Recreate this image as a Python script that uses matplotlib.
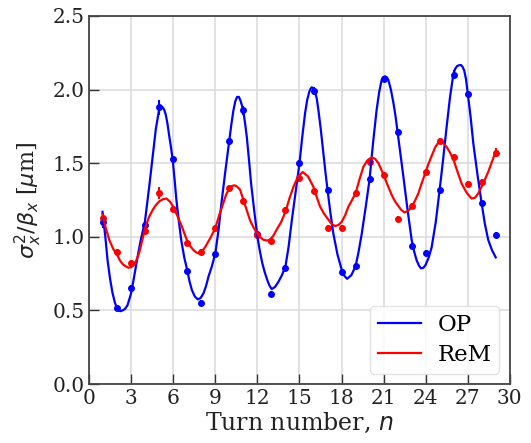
#!/bin/python

# Beam size over turns: measured points and fitted curves, OP vs ReM

import numpy as np
import matplotlib
matplotlib.use("Agg")
import matplotlib.pyplot as plt

turns = list(range(1, 30))

op_meas = [1.10, 0.52, 0.65, 1.08, 1.88, 1.53, 0.77, 0.55, 0.88, 1.65,
           1.86, 1.02, 0.61, 0.79, 1.50, 1.99, 1.32, 0.76, 0.80, 1.39,
           2.07, 1.71, 0.94, 0.89, 1.32, 2.10, 1.97, 1.23, 1.01]
rem_meas = [1.13, 0.90, 0.82, 1.04, 1.30, 1.19, 0.96, 0.90, 1.06, 1.33,
            1.24, 1.01, 0.97, 1.18, 1.40, 1.31, 1.06, 1.06, 1.30, 1.51,
            1.42, 1.12, 1.21, 1.44, 1.65, 1.54, 1.36, 1.37, 1.57]
op_err = [0.04, 0.02, 0.02, 0.02, 0.05, 0.02, 0.02, 0.02, 0.02, 0.02,
          0.03, 0.02, 0.02, 0.02, 0.02, 0.03, 0.02, 0.02, 0.02, 0.02,
          0.02, 0.02, 0.02, 0.02, 0.02, 0.03, 0.02, 0.02, 0.02]
rem_err = [0.03, 0.02, 0.02, 0.02, 0.04, 0.02, 0.02, 0.02, 0.02, 0.02,
           0.02, 0.02, 0.02, 0.02, 0.02, 0.02, 0.02, 0.02, 0.02, 0.02,
           0.02, 0.02, 0.02, 0.02, 0.02, 0.02, 0.02, 0.02, 0.03]

# fitted curves
op_fit_n = [0.95, 1.15, 1.31, 1.48, 1.66, 1.84, 2.02, 2.20, 2.38, 2.55, 2.73, 2.97, 3.15, 3.33, 3.50, 3.68, 3.97,
            4.28, 4.46, 4.63, 4.75, 4.87, 4.96, 5.04, 5.13, 5.23, 5.34, 5.46, 5.58, 5.70, 5.83, 5.96, 6.09, 6.22, 6.39, 6.56,
            6.78, 6.99, 7.15, 7.32, 7.53, 7.75, 7.95, 8.15, 8.33, 8.51, 8.75, 9.00, 9.23, 9.46, 9.73, 10.00, 10.15, 10.29, 10.42, 10.55,
            10.68, 10.81, 10.90, 11.00, 11.12, 11.24, 11.40, 11.55, 11.78, 12.00, 12.18, 12.35, 12.52, 12.69, 12.85, 13.02, 13.26, 13.50, 13.75, 14.00,
            14.22, 14.45, 14.72, 15.00, 15.20, 15.40, 15.55, 15.70, 15.79, 15.87, 15.99, 16.11, 16.23, 16.35, 16.52, 16.70, 16.85, 17.00, 17.21, 17.42,
            17.71, 18.00, 18.20, 18.40, 18.70, 19.00, 19.22, 19.44, 19.72, 20.00, 20.25, 20.50, 20.68, 20.86, 20.98, 21.10, 21.22, 21.34, 21.52, 21.70,
            21.85, 22.00, 22.20, 22.41, 22.70, 23.00, 23.18, 23.36, 23.52, 23.67, 23.84, 24.00, 24.22, 24.43, 24.72, 25.00, 25.25, 25.50, 25.74, 25.97,
            26.10, 26.25, 26.38, 26.52, 26.63, 26.75, 26.88, 27.00, 27.20, 27.40, 27.70, 27.99, 28.22, 28.46, 28.73, 29.00]
op_fit = [1.17, 1.00, 0.84, 0.72, 0.62, 0.55, 0.51, 0.495, 0.50, 0.51, 0.535, 0.61, 0.70, 0.80, 0.89, 0.98, 1.10,
          1.34, 1.49, 1.635, 1.73, 1.80, 1.85, 1.875, 1.885, 1.88, 1.865, 1.83, 1.77, 1.69, 1.61, 1.52, 1.39, 1.25, 1.11, 0.98,
          0.86, 0.775, 0.70, 0.64, 0.595, 0.575, 0.585, 0.616, 0.665, 0.73, 0.80, 0.89, 1.05, 1.25, 1.46, 1.66, 1.77, 1.86, 1.92, 1.95,
          1.95, 1.92, 1.89, 1.85, 1.77, 1.68, 1.52, 1.36, 1.17, 1.00, 0.90, 0.82, 0.76, 0.71, 0.67, 0.645, 0.66, 0.695, 0.74, 0.80,
          0.93, 1.11, 1.30, 1.50, 1.68, 1.84, 1.93, 1.985, 2.005, 2.015, 2.01, 1.985, 1.94, 1.86, 1.73, 1.57, 1.44, 1.32, 1.16, 1.02,
          0.88, 0.78, 0.735, 0.715, 0.74, 0.80, 0.90, 1.02, 1.20, 1.39, 1.64, 1.86, 1.98, 2.065, 2.085, 2.09, 2.085, 2.065, 2.00, 1.91,
          1.82, 1.71, 1.56, 1.41, 1.19, 0.98, 0.90, 0.84, 0.805, 0.786, 0.79, 0.81, 0.86, 0.93, 1.10, 1.32, 1.53, 1.75, 1.95, 2.10,
          2.14, 2.16, 2.165, 2.167, 2.155, 2.13, 2.07, 1.975, 1.82, 1.635, 1.42, 1.23, 1.09, 0.98, 0.91, 0.86]

rem_fit_n = [0.95, 1.18, 1.43, 1.70, 2.00, 2.19, 2.38, 2.59, 2.80, 3.00, 3.21, 3.38, 3.56, 3.78, 3.99, 4.25, 4.51, 4.75, 4.99,
             5.25, 5.51, 5.75, 5.99, 6.30, 6.61, 6.80, 7.00, 7.22, 7.44, 7.62, 7.79, 8.03, 8.27, 8.63, 9.00, 9.28, 9.57,
             9.78, 10.00, 10.18, 10.36, 10.56, 10.76, 11.00, 11.24, 11.48, 11.74, 12.00, 12.22, 12.43, 12.65, 12.86, 13.12, 13.38, 13.69, 14.00,
             14.28, 14.57, 14.90, 15.23, 15.61, 15.99, 16.23, 16.47, 16.73, 17.00, 17.27, 17.53, 17.77, 18.00, 18.25, 18.49, 18.75, 19.00, 19.28, 19.56,
             19.85, 20.15, 20.39, 20.63, 20.82, 21.00, 21.29, 21.58, 21.79, 22.00, 22.24, 22.48, 22.74, 23.00, 23.24, 23.48, 23.74, 24.00, 24.22, 24.43,
             24.69, 24.95, 25.22, 25.50, 25.75, 26.00, 26.28, 26.56, 26.92, 27.28, 27.52, 27.75, 27.99, 28.23, 28.46, 28.73, 29.00]
rem_fit = [1.155, 1.06, 0.98, 0.92, 0.876, 0.84, 0.815, 0.80, 0.79, 0.795, 0.81, 0.845, 0.89, 0.975, 1.06, 1.13, 1.18, 1.215, 1.24,
           1.255, 1.26, 1.24, 1.205, 1.14, 1.07, 1.02, 0.97, 0.935, 0.91, 0.895, 0.888, 0.90, 0.93, 0.99, 1.06, 1.15, 1.23,
           1.29, 1.33, 1.345, 1.35, 1.34, 1.32, 1.25, 1.18, 1.11, 1.06, 1.02, 0.995, 0.98, 0.975, 0.978, 1.005, 1.05, 1.10, 1.17,
           1.26, 1.34, 1.41, 1.44, 1.41, 1.34, 1.27, 1.205, 1.16, 1.125, 1.09, 1.073, 1.08, 1.10, 1.145, 1.205, 1.25, 1.295, 1.39, 1.476,
           1.52, 1.54, 1.53, 1.50, 1.46, 1.42, 1.35, 1.284, 1.245, 1.216, 1.185, 1.166, 1.175, 1.205, 1.245, 1.295, 1.37, 1.44, 1.50, 1.55,
           1.61, 1.646, 1.64, 1.61, 1.57, 1.52, 1.44, 1.363, 1.30, 1.26, 1.265, 1.295, 1.34, 1.39, 1.44, 1.51, 1.58]

plt.rcParams["font.family"] = "DejaVu Serif"
plt.rcParams["mathtext.fontset"] = "dejavusans"

fig = plt.figure(figsize=(5.31, 4.43), dpi=100)
ax = fig.add_axes([0.168, 0.133, 0.792, 0.831])

ax.errorbar(turns, op_meas, yerr=op_err, fmt="o", color="blue", ms=4, elinewidth=1.5, capsize=0, zorder=3)
ax.errorbar(turns, rem_meas, yerr=rem_err, fmt="o", color="red", ms=4, elinewidth=1.5, capsize=0, zorder=3)
ax.plot(op_fit_n, op_fit, color="blue", lw=1.6, label="OP", zorder=4)
ax.plot(rem_fit_n, rem_fit, color="red", lw=1.6, label="ReM", zorder=4)

ax.set_xlim(0, 30)
ax.set_ylim(0, 2.5)
ax.set_xticks(np.arange(0, 31, 3))
ax.set_yticks(np.arange(0, 2.51, 0.5))
ax.grid(True, color="#dddddd", lw=1.2)
ax.set_axisbelow(True)
ax.tick_params(direction="in", length=7, width=1, labelsize=14.5, colors="#333333", labelcolor="#222222")
for s in ax.spines.values():
    s.set_color("#444444")
    s.set_linewidth(1.3)

ax.set_xlabel("Turn number, $n$", fontsize=17, color="#222222", labelpad=2)
ax.set_ylabel(r"$\sigma_x^2/\beta_x$ [$\mu$m]", fontsize=16, color="#222222", labelpad=6)

ax.legend(loc="lower right", fontsize=16.5, handlelength=1.9, handletextpad=0.7,
          borderpad=0.35, labelspacing=0.35, borderaxespad=0.45,
          fancybox=True, framealpha=0.8, edgecolor="#dddddd")

fig.savefig("out.png", dpi=100)
